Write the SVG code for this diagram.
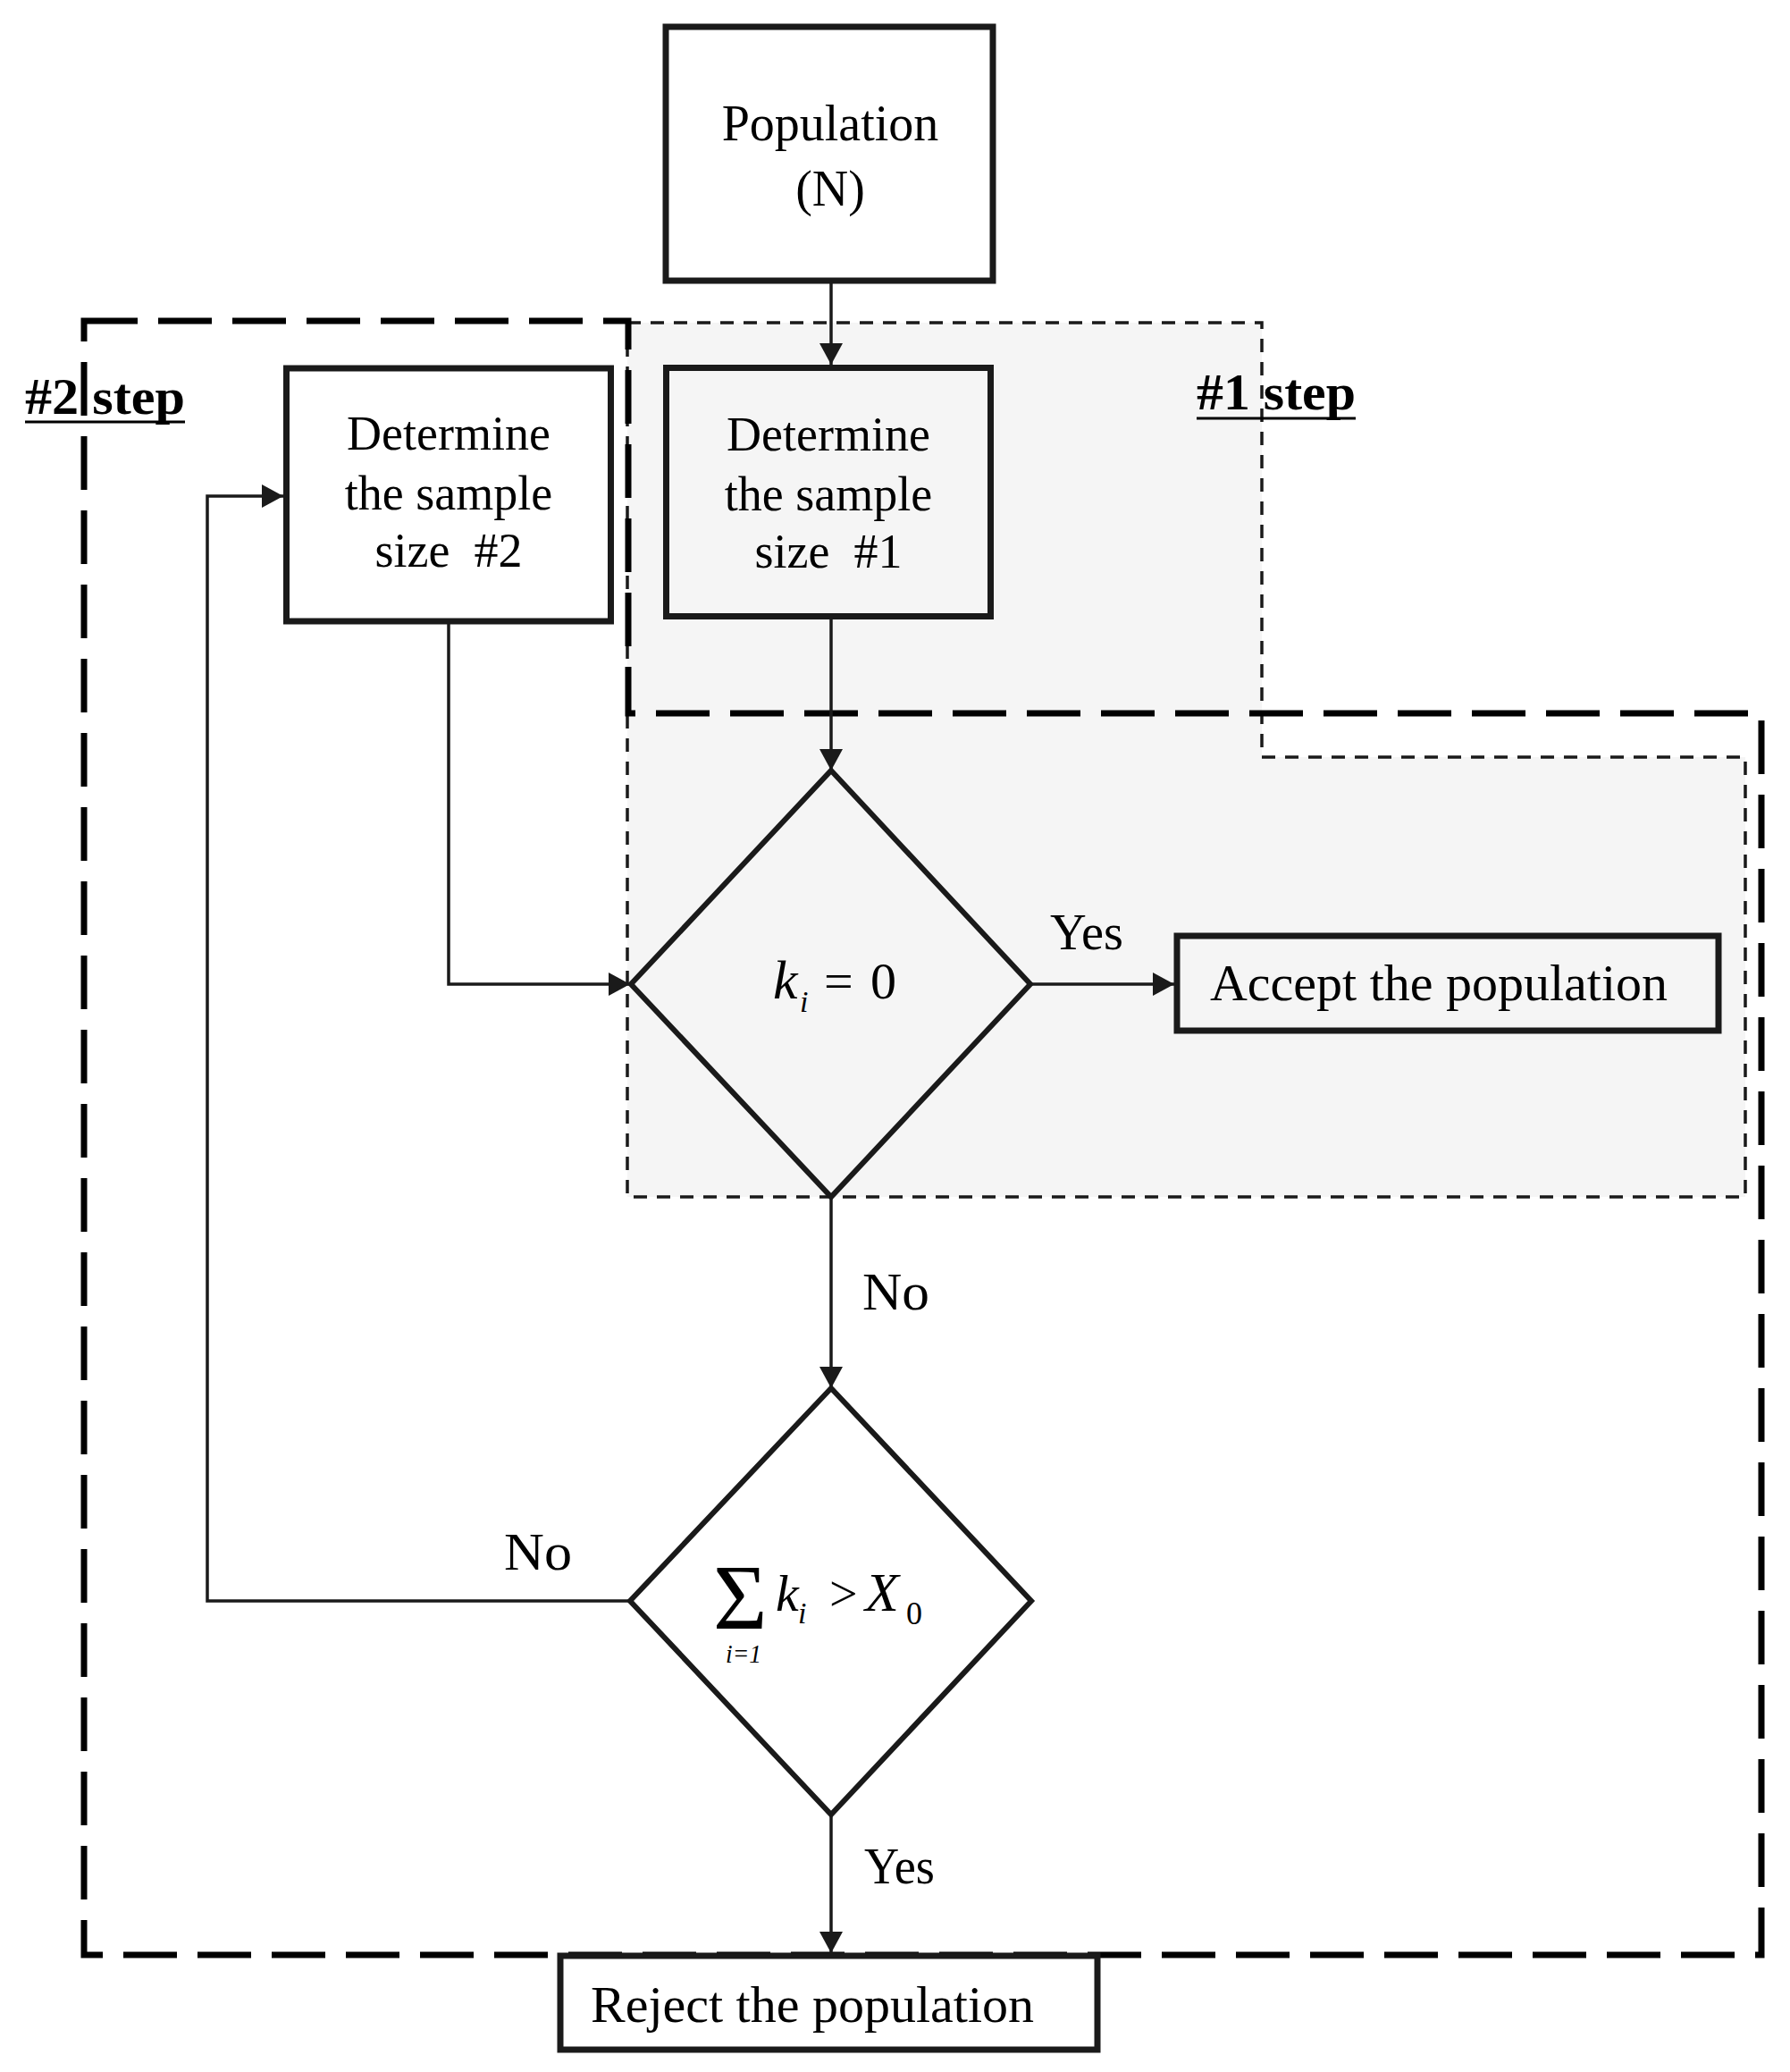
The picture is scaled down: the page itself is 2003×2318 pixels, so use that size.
<svg xmlns="http://www.w3.org/2000/svg" width="2003" height="2318" viewBox="0 0 2003 2318">
<defs>
<style>
.box{fill:#ffffff;stroke:#1a1a1a;stroke-width:7}
.gbox{fill:#f5f5f5;stroke:#1a1a1a;stroke-width:7}
.dia{stroke:#1a1a1a;stroke-width:6;stroke-linejoin:miter}
.con{fill:none;stroke:#1a1a1a;stroke-width:3.5}
.t{font-family:"Liberation Serif","Times New Roman",serif;fill:#000}
.it{font-family:"Liberation Serif","Times New Roman",serif;font-style:italic;fill:#000}
.step{font-family:"Liberation Serif","Times New Roman",serif;font-weight:bold;font-size:58px;fill:#000}
</style>
<marker id="arr" markerUnits="userSpaceOnUse" markerWidth="24" markerHeight="26" refX="24" refY="13" orient="auto">
<path d="M0,0 L24,13 L0,26 Z" fill="#1a1a1a"/>
</marker>
</defs>
<rect width="2003" height="2318" fill="#ffffff"/>

<g id="region-step1">
<path d="M702,361 H1412 V847 H1953 V1339 H702 Z" fill="#f5f5f5" stroke="#1a1a1a" stroke-width="3.5" stroke-dasharray="15 11"/>
</g>
<g id="region-step2">
<path d="M94,359 H703 V798 H1971 V2187 H94 Z" fill="none" stroke="#000" stroke-width="7" stroke-dasharray="60 23"/>
</g>

<g id="connectors">
<path class="con" d="M930,317 V408" marker-end="url(#arr)"/>
<path class="con" d="M930,693 V862" marker-end="url(#arr)"/>
<path class="con" d="M502,698 V1101 H705" marker-end="url(#arr)"/>
<path class="con" d="M1153,1101 H1314" marker-end="url(#arr)"/>
<path class="con" d="M930,1339 V1553" marker-end="url(#arr)"/>
<path class="con" d="M705,1791 H232 V555 H317" marker-end="url(#arr)"/>
<path class="con" d="M930,2030 V2185" marker-end="url(#arr)"/>
<text class="t" x="1175" y="1062" font-size="58" textLength="82" lengthAdjust="spacingAndGlyphs">Yes</text>
<text class="t" x="965" y="1465" font-size="60" textLength="75" lengthAdjust="spacingAndGlyphs">No</text>
<text class="t" x="564" y="1756" font-size="60" textLength="76" lengthAdjust="spacingAndGlyphs">No</text>
<text class="t" x="967" y="2107" font-size="58" textLength="79" lengthAdjust="spacingAndGlyphs">Yes</text>
</g>

<g id="population">
<rect class="box" x="745" y="30" width="366" height="284"/>
<text class="t" x="929" y="157" font-size="56" text-anchor="middle">Population</text>
<text class="t" x="929" y="230" font-size="56" text-anchor="middle">(N)</text>
</g>

<g id="determine1">
<rect class="gbox" x="745.5" y="411.5" width="363" height="278"/>
<text class="t" x="927" y="504" font-size="54" text-anchor="middle">Determine</text>
<text class="t" x="927" y="571" font-size="54" text-anchor="middle">the sample</text>
<text class="t" x="927" y="635" font-size="54" text-anchor="middle" xml:space="preserve">size  #1</text>
</g>

<g id="determine2">
<rect class="box" x="320.5" y="412" width="363" height="283"/>
<text class="t" x="502" y="503" font-size="54" text-anchor="middle">Determine</text>
<text class="t" x="502" y="570" font-size="54" text-anchor="middle">the sample</text>
<text class="t" x="502" y="634" font-size="54" text-anchor="middle" xml:space="preserve">size  #2</text>
</g>

<g id="decision1">
<polygon class="dia" points="930,862 1153,1101 930,1339 706,1101" fill="#f5f5f5"/>
<text class="it" x="865" y="1117" font-size="62">k</text>
<text class="it" x="895" y="1132" font-size="34">i</text>
<text class="t" x="922" y="1117" font-size="58">=</text>
<text class="t" x="974" y="1117" font-size="58">0</text>
</g>

<g id="accept">
<rect class="gbox" x="1317" y="1047" width="606" height="106"/>
<text class="t" x="1354" y="1119" font-size="58" textLength="512" lengthAdjust="spacingAndGlyphs">Accept the population</text>
</g>

<g id="decision2">
<polygon class="dia" points="930,1553 1154,1791 930,2030 705,1791" fill="#ffffff"/>
<text class="t" x="798" y="1822" font-size="104">Σ</text>
<text class="it" x="812" y="1860" font-size="30" textLength="40" lengthAdjust="spacingAndGlyphs">i=1</text>
<text class="it" x="868" y="1802" font-size="58">k</text>
<text class="it" x="893" y="1816" font-size="34">i</text>
<text class="t" x="928" y="1802" font-size="56">&gt;</text>
<text class="it" x="968" y="1802" font-size="62">X</text>
<text class="t" x="1014" y="1817" font-size="36">0</text>
</g>

<g id="reject">
<rect class="box" x="627" y="2188" width="601" height="105"/>
<text class="t" x="661" y="2262" font-size="58" textLength="496" lengthAdjust="spacingAndGlyphs">Reject the population</text>
</g>

<g id="label-step2">
<text class="step" x="28" y="463" textLength="179" lengthAdjust="spacingAndGlyphs">#2 step</text>
<line x1="28" y1="472" x2="207" y2="472" stroke="#000" stroke-width="3"/>
</g>
<g id="label-step1">
<text class="step" x="1339" y="458" textLength="178" lengthAdjust="spacingAndGlyphs">#1 step</text>
<line x1="1339" y1="468" x2="1517" y2="468" stroke="#000" stroke-width="3"/>
</g>
</svg>
